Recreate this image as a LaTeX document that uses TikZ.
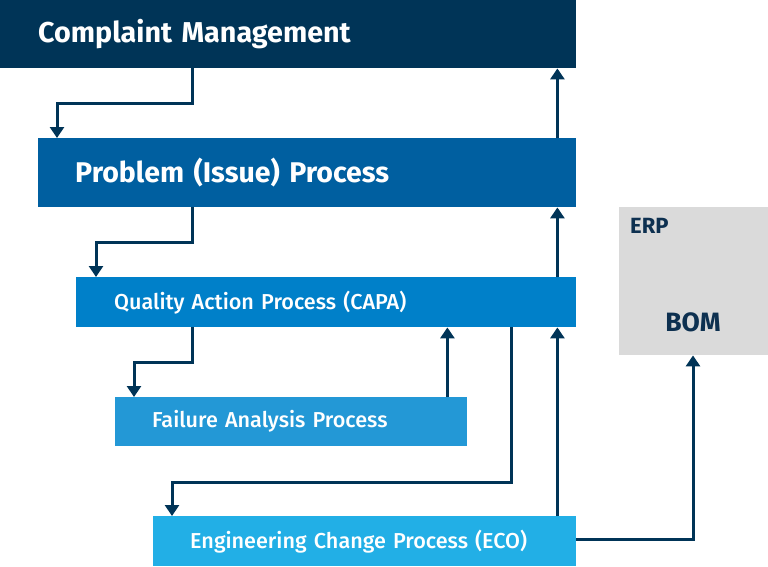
\documentclass[tikz,border=0pt]{standalone}
\usepackage{fontspec}
\setmainfont{Fira Sans}
\newfontfamily\fmed{Fira Sans Medium}
\usetikzlibrary{arrows.meta}
\definecolor{navy}{HTML}{003457}
\definecolor{cprob}{HTML}{005FA0}
\definecolor{ccapa}{HTML}{0080C9}
\definecolor{cfa}{HTML}{2398D6}
\definecolor{ceco}{HTML}{22AFE6}
\definecolor{cerp}{HTML}{DADADA}
\definecolor{darktext}{HTML}{0D3050}
\tikzset{
  procbox/.style={draw=none, anchor=north west, inner ysep=0pt, align=left, text=white, font=\fmed\fontsize{21.6}{24}\selectfont},
  arr/.style={draw=navy, line width=3pt, -{Triangle[width=14pt,length=11pt]}},
}
\begin{document}
\begin{tikzpicture}[x=1pt,y=-1pt]
\useasboundingbox (0,0) rectangle (768,566);
% boxes
\node[procbox, fill=navy, minimum height=68pt, inner xsep=38pt, text width=500pt, font=\fontsize{28.7}{31}\selectfont\bfseries] (cm) at (0,0) {Complaint Management};
\node[procbox, fill=cprob, minimum height=69pt, inner xsep=37pt, text width=464pt, font=\fontsize{28.5}{31}\selectfont\bfseries] (pp) at (38,138) {Problem (Issue) Process};
\node[procbox, fill=ccapa, minimum height=50pt, inner xsep=38pt, text width=424pt] (capa) at (76,277) {Quality Action Process (CAPA)};
\node[procbox, fill=cfa, minimum height=49pt, inner xsep=37pt, text width=278pt] (fa) at (115,397) {Failure Analysis Process};
\node[procbox, fill=ceco, minimum height=50pt, inner xsep=37pt, text width=349pt] (eco) at (153,516) {Engineering Change Process (ECO)};
\node[draw=none, fill=cerp, anchor=north west, minimum width=149pt, minimum height=148pt, inner sep=0pt] (erp) at (619,207) {};
\node[anchor=west, text=darktext, font=\fontsize{22}{24}\selectfont\bfseries, inner sep=0pt] (erplabel) at (630,226) {ERP};
\node[text=darktext, font=\fontsize{26.5}{28}\selectfont\bfseries, inner sep=0pt] (bom) at (693,322) {BOM};
% connectors
\draw[arr] ([xshift=192pt]cm.south west) -- ++(0,35) -| ([xshift=19pt]pp.north west);
\draw[arr] ([xshift=-19pt]pp.north east) -- ([xshift=-19pt]cm.south east);
\draw[arr] ([xshift=154pt]pp.south west) -- ++(0,35) -| ([xshift=20pt]capa.north west);
\draw[arr] ([xshift=-19pt]capa.north east) -- ([xshift=-19pt]pp.south east);
\draw[arr] ([xshift=116pt]capa.south west) -- ++(0,35) -| ([xshift=19pt]fa.north west);
\draw[arr] ([xshift=-20pt]fa.north east) -- ([xshift=-20pt]fa.north east |- capa.south);
\draw[arr] ([xshift=-65pt]capa.south east) -- ++(0,155) -| ([xshift=19pt]eco.north west);
\draw[arr] ([xshift=-19pt]eco.north east) -- ([xshift=-19pt]capa.south east);
\draw[arr] ([yshift=-23pt]eco.north east) -| (erp.south -| bom);
\end{tikzpicture}
\end{document}
